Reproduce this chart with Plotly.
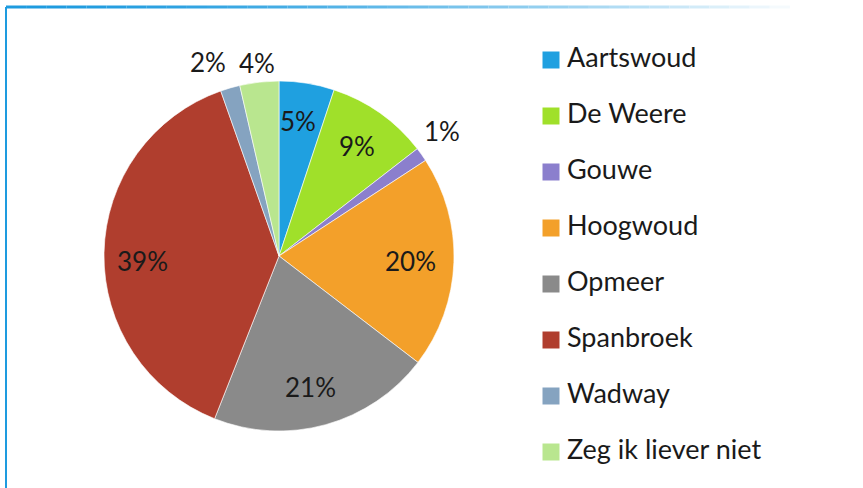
import math
import plotly.graph_objects as go

labels = ["Aartswoud", "De Weere", "Gouwe", "Hoogwoud", "Opmeer", "Spanbroek", "Wadway", "Zeg ik liever niet"]
values = [5.1, 9.4, 1.3, 19.6, 20.6, 38.6, 1.8, 3.6]
colors = ["#1FA0E0", "#A0E02A", "#8B7FCD", "#F3A02A", "#8A8A8A", "#B03E2E", "#85A3C0", "#B9E68F"]
# label placement per slice: radial factor and angular nudge (degrees)
label_r = [0.78, 0.77, 1.17, 0.75, 0.77, 0.78, 1.18, 1.11]
label_nudge = [-1, 0, -2, 0, 2, -3, -4, 0]

W, H = 863, 488
FONT = "Lato"
CX, CY, R = 279, 256, 175

fig = go.Figure()
fig.add_trace(go.Pie(
    labels=labels, values=values, sort=False, direction="clockwise", rotation=0,
    marker=dict(colors=colors, line=dict(color="rgba(255,255,255,0.6)", width=1)),
    textinfo="none",
    domain=dict(x=[(CX - R) / W, (CX + R) / W], y=[1 - (CY + R) / H, 1 - (CY - R) / H]),
    showlegend=False, hoverinfo="label+percent",
))

# percentage labels placed from the data's cumulative angles
total = sum(values)
cum = 0
annotations = []
for v, rf, nd in zip(values, label_r, label_nudge):
    mid = (cum + v / 2) / total * 360 + nd
    cum += v
    px = CX + rf * R * math.sin(math.radians(mid))
    py = CY - rf * R * math.cos(math.radians(mid))
    annotations.append(dict(
        x=px / W, y=1 - py / H, xref="paper", yref="paper", showarrow=False,
        text=f"{round(v / total * 100)}%", xanchor="center", yanchor="middle",
        font=dict(family=FONT, size=26, color="#1a1a1a"),
    ))

# legend drawn as scatter on its own axes
idx = list(range(len(labels)))
fig.add_trace(go.Scatter(
    x=[0] * len(labels), y=idx, mode="markers",
    marker=dict(symbol="square", size=17, color=colors, line=dict(width=0)),
    xaxis="x", yaxis="y", showlegend=False, hoverinfo="skip",
))
fig.add_trace(go.Scatter(
    x=[16] * len(labels), y=idx, mode="text", text=labels, textposition="middle right",
    textfont=dict(family=FONT, size=27, color="#1a1a1a"),
    xaxis="x", yaxis="y", showlegend=False, hoverinfo="skip",
))

top_row, bottom_row = 60, 452
step = (bottom_row - top_row) / 7
fig.update_layout(
    width=W, height=H, margin=dict(l=0, r=0, t=0, b=0),
    paper_bgcolor="white", plot_bgcolor="rgba(0,0,0,0)",
    xaxis=dict(domain=[0, 1], range=[-551, W - 551], visible=False, fixedrange=True),
    yaxis=dict(domain=[0, 1], range=[7 + (H - bottom_row) / step, -top_row / step], visible=False, fixedrange=True),
    annotations=annotations,
)

# frame: left line and fading top line
shapes = [dict(type="line", xref="paper", yref="paper", x0=6 / W, x1=6 / W, y0=0, y1=1 - 7 / H,
               line=dict(color="#1E9BDF", width=2))]
n = 40
x_start, x_end = 6, 810
for i in range(n):
    t = i / (n - 1)
    r = int(30 + (255 - 30) * t ** 1.6)
    g = int(155 + (255 - 155) * t ** 1.6)
    b = int(223 + (255 - 223) * t ** 1.6)
    xa = x_start + (x_end - x_start) * i / n
    xb = x_start + (x_end - x_start) * (i + 1) / n
    shapes.append(dict(type="line", xref="paper", yref="paper", x0=xa / W, x1=xb / W,
                       y0=1 - 7 / H, y1=1 - 7 / H, line=dict(color=f"rgb({r},{g},{b})", width=3)))
fig.update_layout(shapes=shapes)

fig.write_html("out.html", config={"displayModeBar": False},
               post_script="document.body.style.margin='0';")
